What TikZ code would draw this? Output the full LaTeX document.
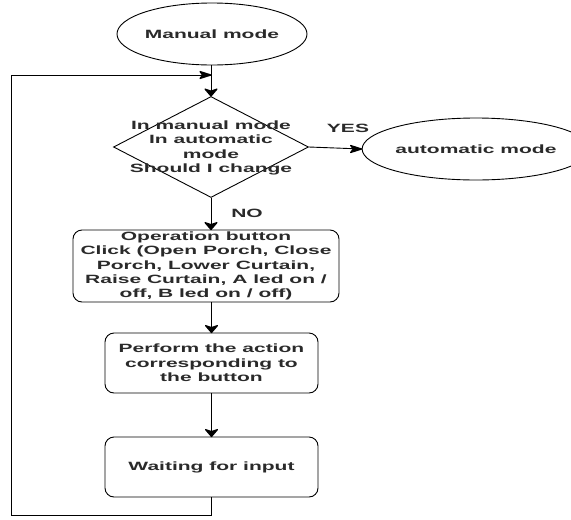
\documentclass[tikz,border=0pt]{standalone}
\usepackage{fontspec}
\setmainfont{Liberation Sans}[FakeStretch=1.75]
\usetikzlibrary{shapes.geometric}
\definecolor{ink}{HTML}{2A2A2A}
\tikzset{
  every node/.style={font=\bfseries\fontsize{12}{14.4}\selectfont, text=ink},
  shape line/.style={draw=black, line width=0.9pt},
  terminal/.style={shape line, ellipse, inner sep=0pt},
  stepbox/.style={shape line, rectangle, rounded corners=9pt, inner sep=0pt, align=center},
  decision/.style={shape line, diamond, inner sep=0pt},
  note/.style={inner sep=0pt, align=center},
  link/.style={draw=black, line width=0.9pt},
  headpen/.style={draw=black, line width=1.2pt, line cap=round, line join=round},
  % solid wedge heads built from strokes, tip at the pic origin
  downhead/.pic={
    \draw[headpen] (0pt,0pt) -- (-6pt,7pt) -- (0pt,5pt) -- (6pt,7pt) -- cycle
      (0pt,0pt) -- (-4.5pt,6.5pt) (0pt,0pt) -- (-3pt,6pt) (0pt,0pt) -- (-1.5pt,5.5pt)
      (0pt,0pt) -- (0pt,5pt)
      (0pt,0pt) -- (1.5pt,5.5pt) (0pt,0pt) -- (3pt,6pt) (0pt,0pt) -- (4.5pt,6.5pt);
  },
  righthead/.pic={
    \draw[headpen] (0pt,0pt) -- (-11pt,3.5pt) -- (-8.5pt,0pt) -- (-11pt,-3.5pt) -- cycle
      (0pt,0pt) -- (-10.4pt,2.6pt) (0pt,0pt) -- (-9.8pt,1.7pt) (0pt,0pt) -- (-9.1pt,0.9pt)
      (0pt,0pt) -- (-8.5pt,0pt)
      (0pt,0pt) -- (-9.1pt,-0.9pt) (0pt,0pt) -- (-9.8pt,-1.7pt) (0pt,0pt) -- (-10.4pt,-2.6pt);
  }
}
\begin{document}
\begin{tikzpicture}
  \useasboundingbox (0,0) rectangle (571pt,-520pt);
  \begin{scope}[x=1pt,y=-1pt]

  % start and the automatic-mode terminal
  \node[terminal, minimum width=190pt, minimum height=62pt] (manual) at (212,34) {Manual mode};
  \node[terminal, minimum width=188pt, minimum height=62pt] (auto) at (476,149) {automatic mode};

  % mode decision
  \node[decision, minimum width=195pt, minimum height=101pt] (dec) at (211,147) {};
  \node[note] (dectext) at (211,148) {In manual mode\\In automatic\\mode\\Should I change};

  % process steps
  \node[stepbox, minimum width=266pt, minimum height=72pt] (press) at (206,266)
    {Operation button\\Click (Open Porch, Close\\Porch, Lower Curtain,\\Raise Curtain, A led on /\\off, B led on / off)};
  \node[stepbox, minimum width=213pt, minimum height=60pt] (act) at (211.5,363)
    {Perform the action\\corresponding to\\the button};
  \node[stepbox, minimum width=213pt, minimum height=60pt] (wait) at (211.5,467)
    {Waiting for input};

  % branch labels
  \node[note] (yes) at (348,128) {YES};
  \node[note] (no) at (247,213) {NO};

  % loop-back route
  \coordinate (join) at (211,75);
  \coordinate (lb) at (11,515);
  \coordinate (lt) at (11,75);

  % connectors
  \draw[link] (manual.south -| dec.north) -- (dec.north);
  \pic at (dec.north) {downhead};
  \draw[link] (dec.east) -- (auto.west);
  \pic at (auto.west) {righthead};
  \draw[link] (dec.south) -- (dec.south |- press.north);
  \pic at (dec.south |- press.north) {downhead};
  \draw[link] (act.north |- press.south) -- (act.north);
  \pic at (act.north) {downhead};
  \draw[link] (act.south) -- (wait.north);
  \pic at (wait.north) {downhead};
  \draw[link] (wait.south) |- (lb) -- (lt) -- (join);
  \pic at (join) {righthead};
  \end{scope}
\end{tikzpicture}
\end{document}
